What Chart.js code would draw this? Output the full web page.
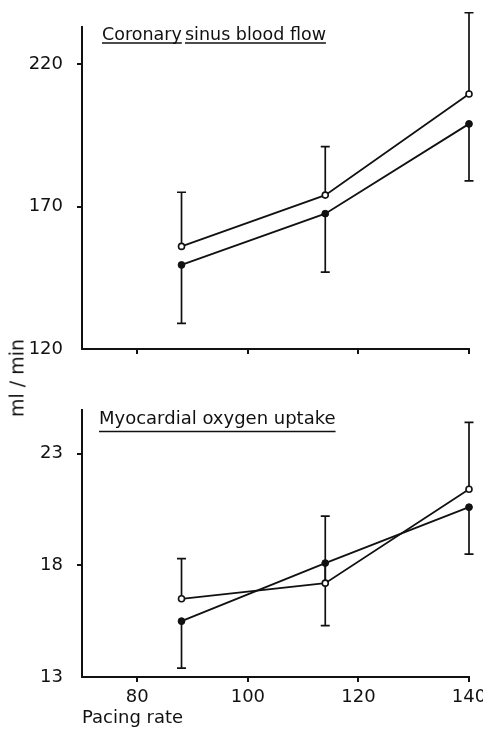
<!DOCTYPE html>
<html>
<head>
<meta charset="utf-8">
<script src="https://cdn.jsdelivr.net/npm/chart.js@4/dist/chart.umd.min.js"></script>
<style>
  body { margin: 0; background: #fff; }
  #wrap { position: relative; width: 483px; height: 730px; }
  #wrap canvas { position: absolute; left: 0; }
  #ylab {
    position: absolute; left: 17px; top: 378px;
    transform: translate(-50%, -50%) rotate(-90deg);
    font: 19px "DejaVu Sans", sans-serif; color: #111;
    white-space: nowrap; line-height: 1;
  }
</style>
</head>
<body>
<div id="wrap">
  <canvas id="flowChart" width="483" height="370" style="top:0"></canvas>
  <canvas id="o2Chart" width="483" height="360" style="top:370px"></canvas>
  <div id="ylab">ml / min</div>
</div>
<script>
// pacing rates (x)
const rates = [88, 114, 140];
const rateTicks = [80, 100, 120, 140];

// coronary sinus blood flow
const flowOpen = [156, 174, 209.5];
const flowOpenUpper = [175, 191, 238];
const flowFilled = [149.5, 167.5, 199];
const flowFilledLower = [129, 147, 179];
const flowTicks = [120, 170, 220];

// myocardial oxygen uptake
const o2Open = [16.5, 17.2, 21.4];
const o2OpenUpper = [18.3, 20.2, 24.4];
const o2Filled = [15.5, 18.1, 20.6];
const o2FilledLower = [13.4, 15.3, 18.5];
const o2Ticks = [13, 18, 23];

const ink = '#111';
const fontName = '"DejaVu Sans", sans-serif';

function pts(ys) {
    return rates.map((x, i) => ({x: x, y: ys[i]}));
}

// error bars: vertical line from the mean to the cap value, with a short cap
const errorBars = {
    id: 'errorBars',
    beforeDatasetsDraw(chart) {
        const ctx = chart.ctx;
        const xs = chart.scales.x, ys = chart.scales.y;
        ctx.save();
        ctx.strokeStyle = ink;
        ctx.lineWidth = 1.7;
        chart.data.datasets.forEach(ds => {
            if (!ds.caps) return;
            ds.data.forEach((p, i) => {
                const x = xs.getPixelForValue(p.x);
                const y0 = ys.getPixelForValue(p.y);
                const y1 = ys.getPixelForValue(ds.caps[i]);
                ctx.beginPath();
                ctx.moveTo(x, y0);
                ctx.lineTo(x, y1);
                ctx.moveTo(x - 4.5, y1);
                ctx.lineTo(x + 4.5, y1);
                ctx.stroke();
            });
        });
        ctx.restore();
    }
};

// underlined heading inside the plot area
const heading = {
    id: 'heading',
    afterDraw(chart, args, opts) {
        const ctx = chart.ctx;
        const a = chart.chartArea;
        ctx.save();
        ctx.fillStyle = ink;
        ctx.strokeStyle = ink;
        ctx.lineWidth = 1.7;
        ctx.font = opts.size + 'px ' + fontName;
        ctx.textBaseline = 'alphabetic';
        opts.parts.forEach(part => {
            const x = a.left + part.dx;
            const y = a.top + opts.dy;
            ctx.fillText(part.text, x, y);
            const w = ctx.measureText(part.text).width;
            ctx.beginPath();
            ctx.moveTo(x, y + opts.line);
            ctx.lineTo(x + w, y + opts.line);
            ctx.stroke();
        });
        ctx.restore();
    }
};

function makeChart(id, cfg) {
    const yTicks = cfg.yTicks;
    return new Chart(document.getElementById(id), {
        type: 'line',
        data: {
            datasets: [{
                data: pts(cfg.open),
                caps: cfg.openUpper,
                borderColor: ink,
                borderWidth: 1.8,
                pointRadius: 3,
                pointBackgroundColor: '#fff',
                pointBorderColor: ink,
                pointBorderWidth: 1.6,
                clip: false
            }, {
                data: pts(cfg.filled),
                caps: cfg.filledLower,
                borderColor: ink,
                borderWidth: 1.8,
                pointRadius: 3.4,
                pointBackgroundColor: ink,
                pointBorderColor: ink,
                pointBorderWidth: 1,
                clip: false
            }]
        },
        options: {
            responsive: false,
            animation: false,
            devicePixelRatio: 1,
            layout: { padding: cfg.padding },
            plugins: {
                legend: { display: false },
                tooltip: { enabled: false },
                heading: cfg.heading
            },
            scales: {
                x: {
                    type: 'linear',
                    min: 70,
                    max: 140,
                    afterBuildTicks: s => { s.ticks = rateTicks.map(v => ({value: v})); },
                    afterFit: s => { s.height = cfg.xHeight; s.paddingLeft = 0; s.paddingRight = 0; },
                    border: { display: true, color: ink, width: 2 },
                    grid: { drawOnChartArea: false, drawTicks: true, tickLength: 5, color: ink, lineWidth: 2 },
                    ticks: {
                        display: cfg.showX,
                        color: ink,
                        padding: 5,
                        maxRotation: 0,
                        font: { family: fontName, size: 18 }
                    },
                    title: {
                        display: cfg.showX,
                        text: 'Pacing rate',
                        align: 'start',
                        color: ink,
                        padding: 0,
                        font: { family: fontName, size: 18 }
                    }
                },
                y: {
                    min: cfg.yMin,
                    max: cfg.yMax,
                    afterBuildTicks: s => { s.ticks = yTicks.map(v => ({value: v})); },
                    afterFit: s => { s.width = 82; s.paddingTop = 0; s.paddingBottom = 0; },
                    border: { display: true, color: ink, width: 2 },
                    grid: {
                        drawOnChartArea: false,
                        drawTicks: true,
                        tickLength: 5,
                        lineWidth: 2,
                        color: c => (c.tick && c.tick.value === yTicks[0]) ? 'rgba(0,0,0,0)' : ink
                    },
                    ticks: {
                        color: ink,
                        padding: 14,
                        font: { family: fontName, size: 18 }
                    }
                }
            }
        },
        plugins: [errorBars, heading]
    });
}

makeChart('flowChart', {
    open: flowOpen, openUpper: flowOpenUpper,
    filled: flowFilled, filledLower: flowFilledLower,
    yTicks: flowTicks, yMin: 120, yMax: 233,
    padding: { top: 27, right: 14, bottom: 0, left: 0 },
    xHeight: 21,
    showX: false,
    heading: { size: 17.5, dy: 13, line: 3, parts: [{text: 'Coronary', dx: 20}, {text: 'sinus blood flow', dx: 103}] }
});

makeChart('o2Chart', {
    open: o2Open, openUpper: o2OpenUpper,
    filled: o2Filled, filledLower: o2FilledLower,
    yTicks: o2Ticks, yMin: 13, yMax: 24.95,
    padding: { top: 40, right: 14, bottom: 1, left: 0 },
    xHeight: 52,
    showX: true,
    heading: { size: 18, dy: 14, line: 7.5, parts: [{text: 'Myocardial oxygen uptake', dx: 17}] }
});
</script>
</body>
</html>
